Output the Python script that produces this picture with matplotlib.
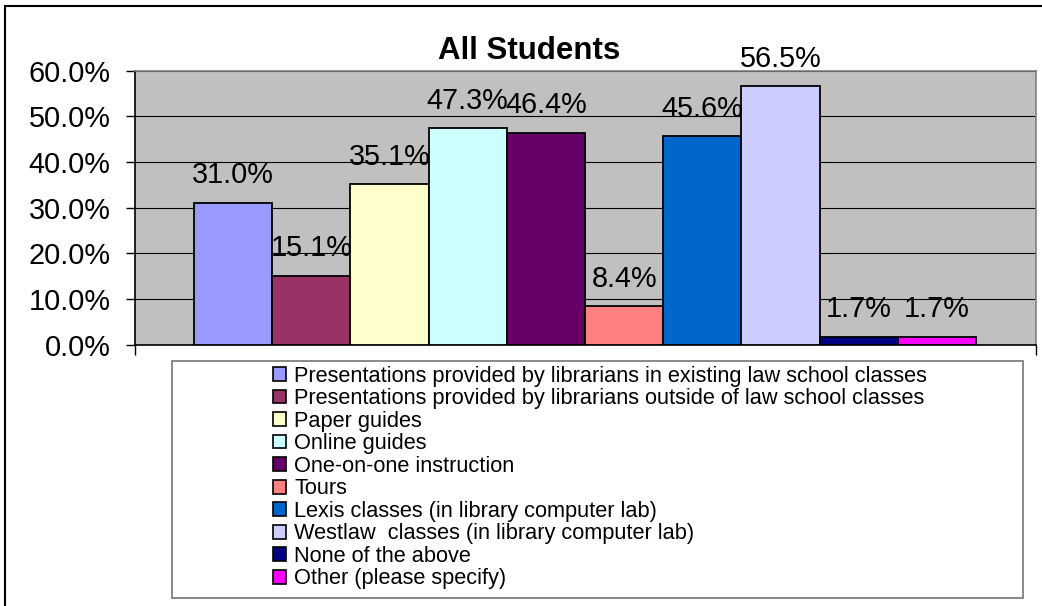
import matplotlib
matplotlib.use("Agg")
import matplotlib.pyplot as plt
from matplotlib.patches import Rectangle
from matplotlib.ticker import PercentFormatter

plt.rcParams["font.family"] = ["Liberation Sans", "DejaVu Sans"]

categories = [
    "Presentations provided by librarians in existing law school classes",
    "Presentations provided by librarians outside of law school classes",
    "Paper guides",
    "Online guides",
    "One-on-one instruction",
    "Tours",
    "Lexis classes (in library computer lab)",
    "Westlaw  classes (in library computer lab)",
    "None of the above",
    "Other (please specify)",
]
values = [31.0, 15.1, 35.1, 47.3, 46.4, 8.4, 45.6, 56.5, 1.7, 1.7]
colors = ["#9999FF", "#993366", "#FFFFCC", "#CCFFFF", "#660066",
          "#FF8080", "#0066CC", "#CCCCFF", "#000080", "#FF00FF"]
yticks = [0, 10, 20, 30, 40, 50, 60]

W, H = 1042, 606
fig = plt.figure(figsize=(W / 100, H / 100), dpi=100)
ax = fig.add_axes([135 / W, 1 - 344.5 / H, 901 / W, 274 / H])
ax.set_facecolor("#C0C0C0")

xs = list(range(len(values)))
ax.bar(xs, values, width=1.0, color=colors, edgecolor="black", linewidth=1.3, zorder=3)
for x, v in zip(xs, values):
    ax.annotate(f"{v:.1f}%", (x, v), xytext=(0, 14), textcoords="offset points",
                ha="center", va="baseline", fontsize=20.8, clip_on=False, zorder=4)

xmin, xmax = -0.5 - 59 / 78.2, len(values) - 0.5 + 60 / 78.2
ax.set_xlim(xmin, xmax)
ax.set_ylim(0, 60)
ax.set_yticks(yticks)
ax.yaxis.set_major_formatter(PercentFormatter(xmax=100, decimals=1))
ax.tick_params(axis="y", direction="out", length=6.5, width=1, pad=11, labelsize=20.8)
ax.set_xticks([xmin, xmax])
ax.set_xticklabels([])
ax.tick_params(axis="x", direction="out", length=7.5, width=1)
ax.grid(axis="y", color="black", linewidth=0.8)
ax.set_axisbelow(True)
for s in ("top", "right"):
    ax.spines[s].set_color("#808080")
    ax.spines[s].set_linewidth(1.2)
for s in ("left", "bottom"):
    ax.spines[s].set_color("black")
    ax.spines[s].set_linewidth(1.2)

fig.text(529 / W, 1 - 59 / H, "All Students", ha="center", va="baseline",
         fontsize=22.5, fontweight="bold")

# legend box drawn separately, wider than its entries
fig.patches.append(Rectangle((172 / W, 1 - 598 / H), 851 / W, 237 / H,
                             transform=fig.transFigure, facecolor="white",
                             edgecolor="#808080", linewidth=1.3))
handles = [Rectangle((0, 0), 1, 1, facecolor=c, edgecolor="black", linewidth=1.2)
           for c in colors]
fig.legend(handles, categories, loc="center", bbox_to_anchor=(600 / W, 1 - 477.5 / H),
           frameon=False, fontsize=15.7, handlelength=0.6, handleheight=0.6,
           handletextpad=0.38, labelspacing=0.07, borderpad=0, borderaxespad=0)

# outer chart border
fig.patches.append(Rectangle((5 / W, -0.05), 1.2, 1.05 - 6.5 / H,
                             transform=fig.transFigure, fill=False,
                             edgecolor="black", linewidth=1.5))

fig.savefig("out.png", dpi=100)
